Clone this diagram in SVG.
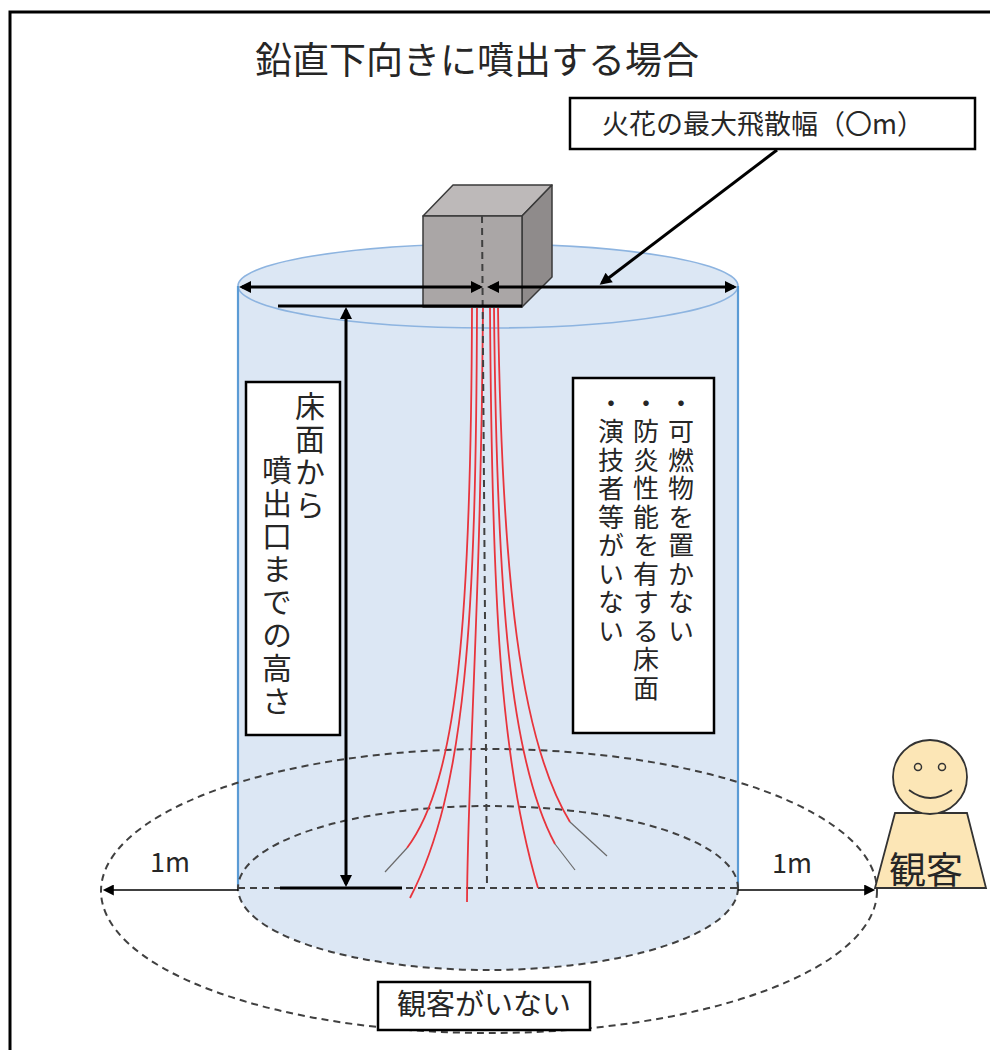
<svg xmlns="http://www.w3.org/2000/svg" width="990" height="1050" viewBox="0 0 990 1050">
  <style>
    .jp { font-family: "Noto Sans CJK JP", "Noto Sans", sans-serif; fill: #262626; }
    .vt { writing-mode: vertical-rl; }
    .box { fill: #ffffff; stroke: #000000; stroke-width: 2.5; }
    .dash { fill: none; stroke: #404040; stroke-width: 2; stroke-dasharray: 7 5; }
    .thick { fill: none; stroke: #000000; stroke-width: 3; }
    .thin { fill: none; stroke: #000000; stroke-width: 1.6; }
    .spark { fill: none; stroke: #e8343c; stroke-width: 1.8; }
    .tail { fill: none; stroke: #6a6a6a; stroke-width: 1.2; }
    .cube { stroke: #3a3a3a; stroke-width: 1.5; stroke-linejoin: round; }
    .person { fill: #fce6b6; stroke: #333333; stroke-width: 1.8; }
  </style>
  <defs>
    <marker id="ah" viewBox="0 0 10 10" refX="7.5" refY="5" markerWidth="14" markerHeight="12" markerUnits="userSpaceOnUse" orient="auto-start-reverse">
      <path d="M0,0 L10,5 L0,10 Z" fill="#000000"/>
    </marker>
    <marker id="ahs" viewBox="0 0 10 10" refX="8" refY="5" markerWidth="13" markerHeight="11" markerUnits="userSpaceOnUse" orient="auto-start-reverse">
      <path d="M0,0 L10,5 L0,10 Z" fill="#000000"/>
    </marker>
  </defs>

  <!-- frame -->
  <rect x="10" y="12" width="1000" height="1060" fill="#ffffff" stroke="#000000" stroke-width="3"/>

  <!-- title -->
  <text class="jp" x="255" y="74" font-size="37">鉛直下向きに噴出する場合</text>

  <!-- spray zone cylinder -->
  <g id="zone">
    <path d="M238,286 A250,42 0 0 1 738,286 L738,888 A250,82 0 0 1 238,888 Z" fill="#dce7f4"/>
    <ellipse cx="488" cy="286" rx="250" ry="42" fill="none" stroke="#8db4e0" stroke-width="1.6"/>
    <line x1="238" y1="286" x2="238" y2="888" stroke="#5b9bd5" stroke-width="2.2"/>
    <line x1="738" y1="286" x2="738" y2="888" stroke="#5b9bd5" stroke-width="2.2"/>
  </g>

  <!-- floor rings -->
  <g id="rings">
    <ellipse class="dash" cx="489" cy="891" rx="388" ry="142"/>
    <ellipse class="dash" cx="488" cy="888" rx="250" ry="82"/>
    <line class="dash" x1="238" y1="888" x2="738" y2="888"/>
  </g>

  <!-- sparks -->
  <g id="sparks">
    <path class="spark" d="M472,308 C471,620 458,780 407,848"/>
    <path class="tail" d="M407,848 L385,872"/>
    <path class="spark" d="M477,308 C476,620 466,790 410,898"/>
    <path class="spark" d="M483,308 C481,600 468,760 467,902"/>
    <path class="spark" d="M490,308 C492,600 500,760 538,888"/>
    <path class="spark" d="M494,308 C497,600 510,760 555,844"/>
    <path class="tail" d="M555,844 L575,870"/>
    <path class="spark" d="M498,308 C502,580 520,740 570,822"/>
    <path class="tail" d="M570,822 L607,856"/>
  </g>

  <!-- nozzle -->
  <g id="nozzle">
    <polygon class="cube" points="423,216 453,185 552,185 522,216" fill="#bdb9b9"/>
    <polygon class="cube" points="522,216 552,185 552,277 522,307" fill="#8f8b8b"/>
    <rect class="cube" x="423" y="216" width="99" height="91" fill="#aaa6a6"/>
  </g>

  <!-- centre line -->
  <line class="dash" x1="482" y1="216" x2="487" y2="888" stroke-width="1.8"/>

  <g id="connectors">
    <!-- spread width -->
    <line class="thick" x1="242" y1="287" x2="480" y2="287" marker-start="url(#ah)" marker-end="url(#ah)"/>
    <line class="thick" x1="490" y1="287" x2="734" y2="287" marker-start="url(#ah)" marker-end="url(#ah)"/>
    <!-- callout leader -->
    <line class="thick" x1="777" y1="150" x2="602" y2="283" marker-end="url(#ah)"/>
    <!-- height -->
    <line class="thick" x1="278" y1="306" x2="522" y2="306" stroke-width="2.5"/>
    <line class="thick" x1="280" y1="888" x2="402" y2="888"/>
    <line class="thick" x1="346" y1="310" x2="346" y2="884" marker-start="url(#ah)" marker-end="url(#ah)"/>
    <!-- 1m offsets -->
    <line class="thin" x1="238" y1="890" x2="105" y2="890" marker-end="url(#ahs)"/>
    <line class="thin" x1="738" y1="890" x2="873" y2="890" marker-end="url(#ahs)"/>
  </g>

  <!-- labels -->
  <g id="spread-label">
    <rect class="box" x="570" y="98" width="405" height="51"/>
    <text class="jp" x="602" y="134" font-size="27">火花の最大飛散幅（〇m）</text>
  </g>

  <g id="height-label">
    <rect class="box" x="246" y="382" width="94" height="353"/>
    <text class="jp vt" x="310" y="391" font-size="30" letter-spacing="3">床面から</text>
    <text class="jp vt" x="277" y="455" font-size="30" letter-spacing="3">噴出口までの高さ</text>
  </g>

  <g id="floor-label">
    <rect class="box" x="573" y="378" width="141" height="355"/>
    <text class="jp vt" x="681" y="390" font-size="26" letter-spacing="2.5">・可燃物を置かない</text>
    <text class="jp vt" x="646" y="390" font-size="26" letter-spacing="2.5">・防炎性能を有する床面</text>
    <text class="jp vt" x="611" y="390" font-size="26" letter-spacing="2.5">・演技者等がいない</text>
  </g>

  <g id="no-audience-label">
    <rect class="box" x="378" y="982" width="212" height="48"/>
    <text class="jp" x="397" y="1015" font-size="29">観客がいない</text>
  </g>

  <text class="jp" x="150" y="872" font-size="27">1m</text>
  <text class="jp" x="772" y="873" font-size="27">1m</text>

  <!-- spectator -->
  <g id="spectator">
    <polygon class="person" points="895,813 967,813 986,888 875,888"/>
    <circle class="person" cx="930" cy="777" r="37"/>
    <circle cx="918" cy="767" r="3.5" fill="none" stroke="#333333" stroke-width="1.5"/>
    <circle cx="942" cy="767" r="3.5" fill="none" stroke="#333333" stroke-width="1.5"/>
    <path d="M909,790 Q930,806 952,790" fill="none" stroke="#333333" stroke-width="1.8"/>
    <text class="jp" x="889" y="884" font-size="37">観客</text>
  </g>
</svg>
